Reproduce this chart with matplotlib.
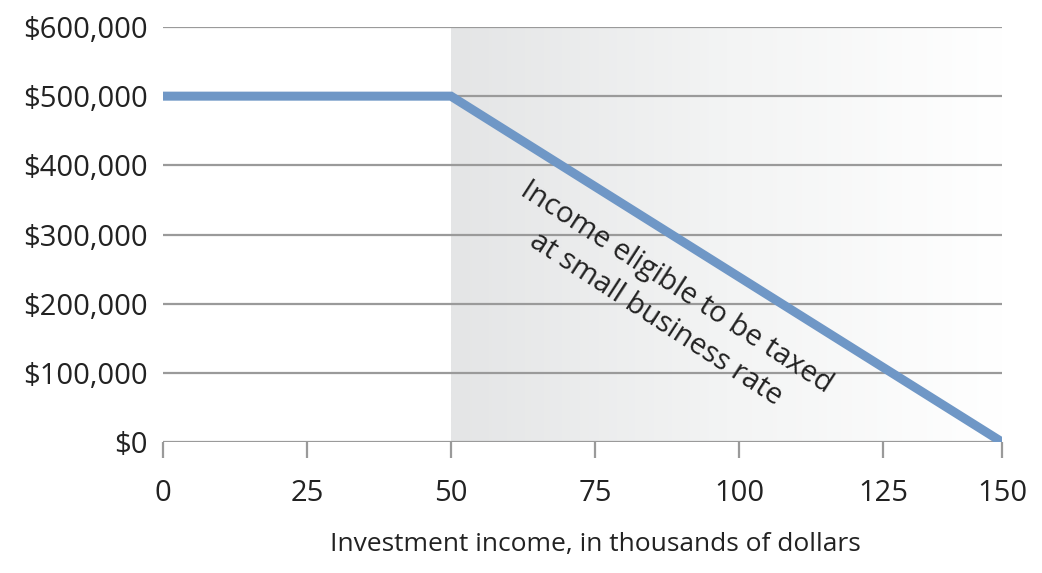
import numpy as np
import matplotlib.pyplot as plt
from matplotlib.colors import LinearSegmentedColormap
from matplotlib.ticker import FuncFormatter

# data
income_k = [0, 50, 150]
eligible = [500000, 500000, 0]
x_ticks = [0, 25, 50, 75, 100, 125, 150]
y_ticks = [0, 100000, 200000, 300000, 400000, 500000, 600000]
shade_start, shade_end = 50, 150

# the last tick interval of the original axis is drawn shorter than the others
SQUEEZE_FROM = 125
SQUEEZE = 119 / 144


def fwd(x):
    x = np.asarray(x, dtype=float)
    return np.where(x <= SQUEEZE_FROM, x, SQUEEZE_FROM + (x - SQUEEZE_FROM) * SQUEEZE)


def inv(x):
    x = np.asarray(x, dtype=float)
    return np.where(x <= SQUEEZE_FROM, x, SQUEEZE_FROM + (x - SQUEEZE_FROM) / SQUEEZE)


def main():
    plt.rcParams['font.family'] = ['Open Sans', 'DejaVu Sans']
    fig = plt.figure(figsize=(10.42, 5.73), dpi=100)
    ax = fig.add_axes([0.1564, 0.2286, 0.8052, 0.7243])
    ax.set_xscale("function", functions=(fwd, inv))
    ax.set_xlim(0, 150)
    ax.set_ylim(0, 600000)

    # shaded gradient region (placed in axes fraction)
    total = float(fwd(150))
    x0f = float(fwd(shade_start)) / total
    x1f = float(fwd(shade_end)) / total
    cmap = LinearSegmentedColormap.from_list("shade", ["#e4e5e6", "#f3f4f4", "#ffffff"])
    grad = np.linspace(0, 1, 256).reshape(1, -1)
    ax.imshow(grad, cmap=cmap, aspect="auto", zorder=0,
              extent=[x0f, x1f, 0, 1], transform=ax.transAxes)
    ax.set_xlim(0, 150)
    ax.set_ylim(0, 600000)

    for yv in y_ticks:
        ax.axhline(yv, color="#9a9a9a", lw=1.6, zorder=1)

    ax.plot(income_k, eligible, color="#6f97c6", lw=6.5,
            solid_capstyle="round", solid_joinstyle="miter", zorder=3)

    ax.text(87.3, 201000, "Income eligible to be taxed\nat small business rate",
            rotation=-33, ha="center", va="center", fontsize=21,
            color="#222222", linespacing=1.4, multialignment="center",
            rotation_mode="anchor", zorder=4)

    ax.set_xticks(x_ticks)
    ax.set_yticks(y_ticks)
    ax.yaxis.set_major_formatter(FuncFormatter(lambda v, p: f"${int(v):,}"))
    for s in ax.spines.values():
        s.set_visible(False)
    ax.tick_params(axis="x", length=11.5, width=1.6, color="#9a9a9a",
                   labelsize=21, labelcolor="#222222", pad=15)
    ax.tick_params(axis="y", length=0, labelsize=21, labelcolor="#222222", pad=11)
    ax.set_xlabel("Investment income, in thousands of dollars",
                  fontsize=19, color="#222222", va="center")
    ax.xaxis.set_label_coords(float(fwd(75)) / total, -0.248)

    fig.savefig("out.png", dpi=100)


if __name__ == "__main__":
    main()
